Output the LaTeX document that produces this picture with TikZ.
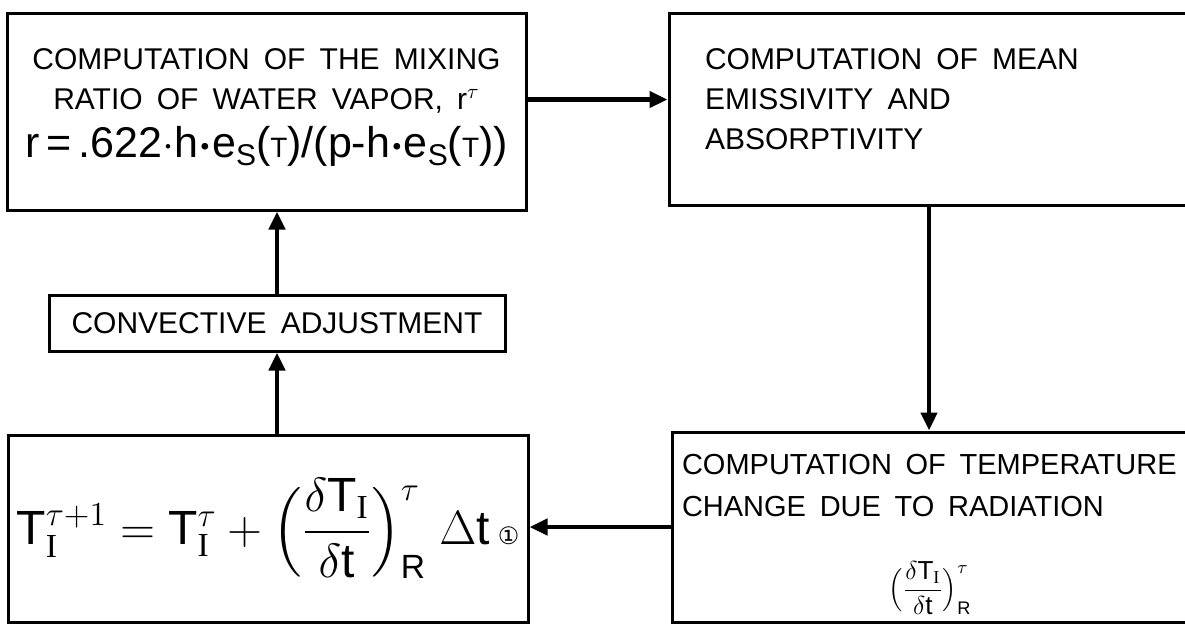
\documentclass[tikz,border=0pt]{standalone}
\usepackage{fix-cm}
\usepackage{amsmath}
\usepackage{fontspec}
\setmainfont{Liberation Sans}
\newfontfamily\lettering[WordSpace=1.7]{Liberation Sans}
\newfontfamily\serifI{Liberation Serif}
\newfontfamily\symfont{DejaVu Sans}
\usetikzlibrary{arrows.meta,positioning}

\newcommand{\eS}{e\raisebox{-0.35ex}{\fontsize{15}{15}\selectfont S}}
\newcommand{\sT}{{\fontsize{14}{14}\selectfont T}}
\newcommand{\subI}{\text{\serifI I}}
\newcommand{\bdot}{$\boldsymbol{\cdot}$}

\tikzset{every picture/.style={line width=1.5pt}}
\tikzset{
  box/.style={draw, line width=1.5pt, inner sep=0pt},
  txt/.style={inner sep=0pt, font=\lettering\fontsize{15}{20}\selectfont},
  flow/.style={line width=2.4pt, -{Triangle[length=9pt,width=8pt]}},
}

\begin{document}
\begin{tikzpicture}[x=0.5pt,y=0.5pt,yscale=-1,xscale=1]
\useasboundingbox (0,0) rectangle (1185,628);

%Box: mixing ratio
\node[box, minimum width=259.5pt, minimum height=98.5pt] (mix) at (266.5,111.5) {};
\node[txt, align=center] (mixtext) at ([yshift=-2pt]mix.center) {COMPUTATION OF THE MIXING\\
  RATIO OF WATER VAPOR, $\mathrm{r}^{\tau}$\\[4pt]
  {\fontsize{21.5}{24}\selectfont r\,=\,.622$\cdot$h\bdot\eS(\sT)/(p-h\bdot\eS(\sT))}};

%Box: emissivity
\node[box, minimum width=265.5pt, minimum height=96pt] (emis) at (934.5,109) {};
\node[txt, align=left, anchor=west] (emistext) at ([xshift=18pt,yshift=-5pt]emis.west) {COMPUTATION OF MEAN\\
  EMISSIVITY AND\\
  ABSORPTIVITY};

%Box: convective adjustment
\node[box, txt, minimum width=228pt, minimum height=28pt] (conv) at (277,323) {CONVECTIVE ADJUSTMENT};

%Box: new temperature
\node[box, minimum width=260pt, minimum height=93.5pt, font=\fontsize{24}{28}\selectfont] (temp) at (268,528.5)
  {$\mathrm{T}_{\subI}^{\tau+1} = \mathrm{T}_{\subI}^{\tau} + \Bigl(\dfrac{\delta\mathrm{T}_{\subI}}{\delta\mathrm{t}}\Bigr)^{\tau}_{\mathrm{R}}\ \Delta\mathrm{t}$\,{\symfont\fontsize{12}{12}\selectfont ①}};

%Box: radiation
\node[box, minimum width=264pt, minimum height=95pt] (rad) at (936,527) {};
\node[txt, align=left, anchor=north west, font=\lettering\fontsize{14.5}{20}\selectfont] (radtext) at ([xshift=5pt,yshift=11pt]rad.north west) {COMPUTATION OF TEMPERATURE\\[1pt]
  CHANGE DUE TO RADIATION};
\node[inner sep=0pt, anchor=south, font=\fontsize{13}{15}\selectfont] (radrate) at ([xshift=-3pt,yshift=-3.5pt]rad.south)
  {$\Bigl(\dfrac{\delta\mathrm{T}_{\subI}}{\delta\mathrm{t}}\Bigr)^{\tau}_{\mathrm{R}}$};

%Connectors
\draw[flow] ([yshift=-6pt]mix.east) -- ([yshift=-6pt]mix.east -| emis.west);
\draw[flow] ([xshift=-2.75pt]emis.south) -- ([xshift=-2.75pt]emis.south |- rad.north);
\draw[flow] (rad.west) -- (rad.west -| temp.east);
\draw[flow] ([xshift=4.5pt]temp.north) -- ([xshift=4.5pt]temp.north |- conv.south);
\draw[flow] (conv.north) -- (conv.north |- mix.south);

\end{tikzpicture}
\end{document}
